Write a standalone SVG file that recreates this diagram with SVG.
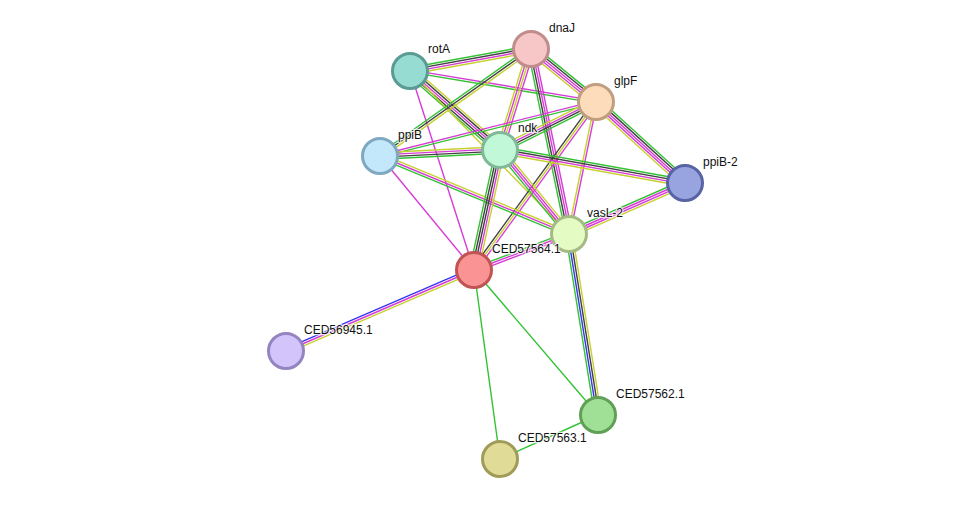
<svg xmlns="http://www.w3.org/2000/svg" width="975" height="505" viewBox="0 0 975 505">
<style>
line{stroke-width:1.4;fill:none}
.g{stroke:#33c233}.k{stroke:#404040}.m{stroke:#d63cd6}.y{stroke:#c6d130}.b{stroke:#3535f0}
circle{stroke-width:3}
text{font-family:"Liberation Sans",Arial,sans-serif;font-size:12px;fill:#111;paint-order:stroke;stroke:#fff;stroke-width:2.5;stroke-opacity:0.75;stroke-linejoin:round}
</style>
<rect width="975" height="505" fill="#fff"/>
<g id="connectors">
<!-- rotA-dnaJ -->
<g transform="translate(410 71) rotate(-10.30)"><line x2="123" y1="-3.3" y2="-3.3" class="g"/><line x2="123" y1="-1.1" y2="-1.1" class="k"/><line x2="123" y1="1.1" y2="1.1" class="m"/><line x2="123" y1="3.3" y2="3.3" class="y"/></g>
<!-- rotA-glpF -->
<g transform="translate(410 71) rotate(9.46)"><line x2="188.6" y1="-1.1" y2="-1.1" class="m"/><line x2="188.6" y1="1.1" y2="1.1" class="g"/></g>
<!-- rotA-ndk -->
<g transform="translate(410 71) rotate(41.27)"><line x2="119.8" y1="-4.4" y2="-4.4" class="y"/><line x2="119.8" y1="-2.2" y2="-2.2" class="k"/><line x2="119.8" y1="0" y2="0" class="m"/><line x2="119.8" y1="2.2" y2="2.2" class="k"/><line x2="119.8" y1="4.4" y2="4.4" class="g"/></g>
<!-- rotA-vasL-2 -->
<line x1="410" y1="71" x2="569" y2="234" class="y"/>
<!-- rotA-CED57564.1 -->
<line x1="410" y1="71" x2="474" y2="270" class="m"/>
<!-- dnaJ-glpF -->
<g transform="translate(531 49) rotate(39.19)"><line x2="83.9" y1="-4.4" y2="-4.4" class="g"/><line x2="83.9" y1="-2.2" y2="-2.2" class="k"/><line x2="83.9" y1="0" y2="0" class="m"/><line x2="83.9" y1="2.2" y2="2.2" class="m"/><line x2="83.9" y1="4.4" y2="4.4" class="y"/></g>
<!-- dnaJ-ppiB -->
<g transform="translate(531 49) rotate(144.68)"><line x2="185.1" y1="-2.2" y2="-2.2" class="y"/><line x2="185.1" y1="0" y2="0" class="k"/><line x2="185.1" y1="2.2" y2="2.2" class="g"/></g>
<!-- dnaJ-ndk -->
<g transform="translate(531 49) rotate(107.06)"><line x2="105.7" y1="-3.3" y2="-3.3" class="m"/><line x2="105.7" y1="-1.1" y2="-1.1" class="y"/><line x2="105.7" y1="1.1" y2="1.1" class="m"/><line x2="105.7" y1="3.3" y2="3.3" class="y"/></g>
<!-- dnaJ-vasL-2 -->
<g transform="translate(531 49) rotate(78.39)"><line x2="188.9" y1="-3.3" y2="-3.3" class="m"/><line x2="188.9" y1="-1.1" y2="-1.1" class="m"/><line x2="188.9" y1="1.1" y2="1.1" class="k"/><line x2="188.9" y1="3.3" y2="3.3" class="g"/></g>
<!-- glpF-ppiB-2 -->
<g transform="translate(596 102) rotate(42.31)"><line x2="120.3" y1="-4.4" y2="-4.4" class="g"/><line x2="120.3" y1="-2.2" y2="-2.2" class="k"/><line x2="120.3" y1="0" y2="0" class="m"/><line x2="120.3" y1="2.2" y2="2.2" class="m"/><line x2="120.3" y1="4.4" y2="4.4" class="y"/></g>
<!-- glpF-ppiB -->
<g transform="translate(596 102) rotate(165.96)"><line x2="222.7" y1="-1.1" y2="-1.1" class="g"/><line x2="222.7" y1="1.1" y2="1.1" class="m"/></g>
<!-- glpF-ndk -->
<g transform="translate(596 102) rotate(153.43)"><line x2="107.3" y1="-3.3" y2="-3.3" class="g"/><line x2="107.3" y1="-1.1" y2="-1.1" class="k"/><line x2="107.3" y1="1.1" y2="1.1" class="m"/><line x2="107.3" y1="3.3" y2="3.3" class="y"/></g>
<!-- glpF-vasL-2 -->
<g transform="translate(596 102) rotate(101.56)"><line x2="134.7" y1="-1.1" y2="-1.1" class="m"/><line x2="134.7" y1="1.1" y2="1.1" class="y"/></g>
<!-- glpF-CED57564.1 -->
<g transform="translate(596 102) rotate(125.99)"><line x2="207.6" y1="-2.2" y2="-2.2" class="m"/><line x2="207.6" y1="0" y2="0" class="y"/><line x2="207.6" y1="2.2" y2="2.2" class="k"/></g>
<!-- ppiB-ndk -->
<g transform="translate(380 156) rotate(-2.86)"><line x2="120.2" y1="-3.3" y2="-3.3" class="y"/><line x2="120.2" y1="-1.1" y2="-1.1" class="m"/><line x2="120.2" y1="1.1" y2="1.1" class="k"/><line x2="120.2" y1="3.3" y2="3.3" class="g"/></g>
<!-- ppiB-vasL-2 -->
<g transform="translate(380 156) rotate(22.43)"><line x2="204.5" y1="-2.2" y2="-2.2" class="y"/><line x2="204.5" y1="0" y2="0" class="m"/><line x2="204.5" y1="2.2" y2="2.2" class="g"/></g>
<!-- ppiB-CED57564.1 -->
<line x1="380" y1="156" x2="474" y2="270" class="m"/>
<!-- ndk-ppiB-2 -->
<g transform="translate(500 150) rotate(10.11)"><line x2="187.9" y1="-3.3" y2="-3.3" class="g"/><line x2="187.9" y1="-1.1" y2="-1.1" class="k"/><line x2="187.9" y1="1.1" y2="1.1" class="m"/><line x2="187.9" y1="3.3" y2="3.3" class="y"/></g>
<!-- ndk-vasL-2 -->
<g transform="translate(500 150) rotate(50.60)"><line x2="108.7" y1="-3.3" y2="-3.3" class="y"/><line x2="108.7" y1="-1.1" y2="-1.1" class="m"/><line x2="108.7" y1="1.1" y2="1.1" class="m"/><line x2="108.7" y1="3.3" y2="3.3" class="g"/></g>
<!-- ndk-CED57564.1 -->
<g transform="translate(500 150) rotate(102.23)"><line x2="122.8" y1="-4.4" y2="-4.4" class="y"/><line x2="122.8" y1="-2.2" y2="-2.2" class="m"/><line x2="122.8" y1="0" y2="0" class="k"/><line x2="122.8" y1="2.2" y2="2.2" class="k"/><line x2="122.8" y1="4.4" y2="4.4" class="g"/></g>
<!-- vasL-2-ppiB-2 -->
<g transform="translate(569 234) rotate(-23.73)"><line x2="126.7" y1="-3.3" y2="-3.3" class="g"/><line x2="126.7" y1="-1.1" y2="-1.1" class="m"/><line x2="126.7" y1="1.1" y2="1.1" class="m"/><line x2="126.7" y1="3.3" y2="3.3" class="y"/></g>
<!-- CED57564.1-vasL-2 -->
<g transform="translate(474 270) rotate(-20.75)"><line x2="101.6" y1="-2.2" y2="-2.2" class="g"/><line x2="101.6" y1="0" y2="0" class="m"/><line x2="101.6" y1="2.2" y2="2.2" class="m"/></g>
<!-- vasL-2-CED57562.1 -->
<g transform="translate(569 234) rotate(80.90)"><line x2="183.3" y1="-3.3" y2="-3.3" class="y"/><line x2="183.3" y1="-1.1" y2="-1.1" class="k"/><line x2="183.3" y1="1.1" y2="1.1" class="b"/><line x2="183.3" y1="3.3" y2="3.3" class="g"/></g>
<!-- CED57564.1-CED56945.1 -->
<g transform="translate(474 270) rotate(156.69)"><line x2="204.7" y1="-2.2" y2="-2.2" class="y"/><line x2="204.7" y1="0" y2="0" class="m"/><line x2="204.7" y1="2.2" y2="2.2" class="b"/></g>
<!-- singles -->
<line x1="474" y1="270" x2="598" y2="415" class="g"/>
<line x1="474" y1="270" x2="500" y2="459" class="g"/>
<line x1="598" y1="415" x2="500" y2="459" class="g"/>
</g>
<g id="node-rotA"><circle cx="410" cy="71" r="17.5" fill="#96dcd3" stroke="#5a9b93"/><text x="428" y="53">rotA</text></g>
<g id="node-dnaJ"><circle cx="531" cy="49" r="17.5" fill="#f7c7c7" stroke="#c08c8c"/><text x="549" y="32">dnaJ</text></g>
<g id="node-glpF"><circle cx="596" cy="102" r="17.5" fill="#fddcbc" stroke="#bf9f80"/><text x="614" y="85">glpF</text></g>
<g id="node-ppiB"><circle cx="380" cy="156" r="17.5" fill="#c3e8fc" stroke="#80a8c0"/><text x="398" y="139">ppiB</text></g>
<g id="node-ndk"><circle cx="500" cy="150" r="17.5" fill="#c0f8d8" stroke="#80b898"/><text x="518" y="132">ndk</text></g>
<g id="node-ppiB-2"><circle cx="685" cy="183" r="17.5" fill="#98a4e0" stroke="#5864a4"/><text x="703" y="166">ppiB-2</text></g>
<g id="node-vasL-2"><circle cx="569" cy="234" r="17.5" fill="#e4fcc4" stroke="#a4bc84"/><text x="587" y="217">vasL-2</text></g>
<g id="node-CED57564.1"><circle cx="474" cy="270" r="17.5" fill="#fa9494" stroke="#c05454"/><text x="492" y="253">CED57564.1</text></g>
<g id="node-CED56945.1"><circle cx="286" cy="351" r="17.5" fill="#d4c4fc" stroke="#9484c0"/><text x="304" y="334">CED56945.1</text></g>
<g id="node-CED57562.1"><circle cx="598" cy="415" r="17.5" fill="#a0e096" stroke="#60a056"/><text x="616" y="398">CED57562.1</text></g>
<g id="node-CED57563.1"><circle cx="500" cy="459" r="17.5" fill="#e0dc98" stroke="#a09c58"/><text x="518" y="442">CED57563.1</text></g>
</svg>
